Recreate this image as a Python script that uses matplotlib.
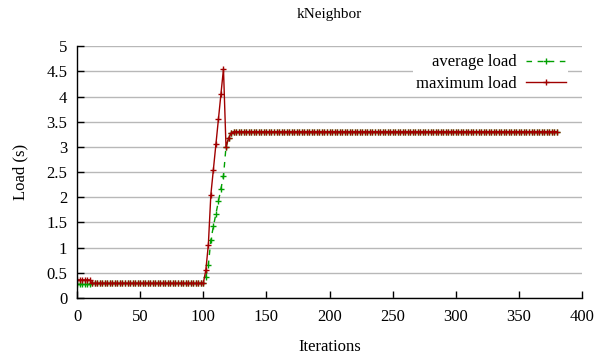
import matplotlib
matplotlib.use("Agg")
import matplotlib.pyplot as plt

plt.rcParams['font.family'] = ['Liberation Serif', 'DejaVu Serif']

iterations = list(range(0, 382, 2))

max_load = [
    0.36, 0.36, 0.36, 0.36, 0.36, 0.36,
    0.29, 0.29, 0.29, 0.29, 0.29, 0.29, 0.29, 0.29, 0.29, 0.29,
    0.29, 0.29, 0.29, 0.29, 0.29, 0.29, 0.29, 0.29, 0.29, 0.29,
    0.29, 0.29, 0.29, 0.29, 0.29, 0.29, 0.29, 0.29, 0.29, 0.29,
    0.29, 0.29, 0.29, 0.29, 0.29, 0.29, 0.29, 0.29, 0.29, 0.29,
    0.29, 0.29, 0.29, 0.29, 0.29,
    0.55, 1.05, 2.05, 2.55, 3.05, 3.55, 4.05, 4.55, 3.00, 3.17, 3.27,
    3.30, 3.30, 3.30, 3.30, 3.30, 3.30, 3.30, 3.30, 3.30, 3.30,
    3.30, 3.30, 3.30, 3.30, 3.30, 3.30, 3.30, 3.30, 3.30, 3.30,
    3.30, 3.30, 3.30, 3.30, 3.30, 3.30, 3.30, 3.30, 3.30, 3.30,
    3.30, 3.30, 3.30, 3.30, 3.30, 3.30, 3.30, 3.30, 3.30, 3.30,
    3.30, 3.30, 3.30, 3.30, 3.30, 3.30, 3.30, 3.30, 3.30, 3.30,
    3.30, 3.30, 3.30, 3.30, 3.30, 3.30, 3.30, 3.30, 3.30, 3.30,
    3.30, 3.30, 3.30, 3.30, 3.30, 3.30, 3.30, 3.30, 3.30, 3.30,
    3.30, 3.30, 3.30, 3.30, 3.30, 3.30, 3.30, 3.30, 3.30, 3.30,
    3.30, 3.30, 3.30, 3.30, 3.30, 3.30, 3.30, 3.30, 3.30, 3.30,
    3.30, 3.30, 3.30, 3.30, 3.30, 3.30, 3.30, 3.30, 3.30, 3.30,
    3.30, 3.30, 3.30, 3.30, 3.30, 3.30, 3.30, 3.30, 3.30, 3.30,
    3.30, 3.30, 3.30, 3.30, 3.30, 3.30, 3.30, 3.30, 3.30, 3.30,
    3.30, 3.30, 3.30, 3.30, 3.30, 3.30, 3.30, 3.30, 3.30,
]

avg_load = [
    0.27, 0.27, 0.27, 0.27, 0.27, 0.27,
    0.29, 0.29, 0.29, 0.29, 0.29, 0.29, 0.29, 0.29, 0.29, 0.29,
    0.29, 0.29, 0.29, 0.29, 0.29, 0.29, 0.29, 0.29, 0.29, 0.29,
    0.29, 0.29, 0.29, 0.29, 0.29, 0.29, 0.29, 0.29, 0.29, 0.29,
    0.29, 0.29, 0.29, 0.29, 0.29, 0.29, 0.29, 0.29, 0.29, 0.29,
    0.29, 0.29, 0.29, 0.29, 0.29,
    0.42, 0.65, 1.15, 1.42, 1.67, 1.92, 2.17, 2.42, 3.00, 3.17, 3.27,
    3.30, 3.30, 3.30, 3.30, 3.30, 3.30, 3.30, 3.30, 3.30, 3.30,
    3.30, 3.30, 3.30, 3.30, 3.30, 3.30, 3.30, 3.30, 3.30, 3.30,
    3.30, 3.30, 3.30, 3.30, 3.30, 3.30, 3.30, 3.30, 3.30, 3.30,
    3.30, 3.30, 3.30, 3.30, 3.30, 3.30, 3.30, 3.30, 3.30, 3.30,
    3.30, 3.30, 3.30, 3.30, 3.30, 3.30, 3.30, 3.30, 3.30, 3.30,
    3.30, 3.30, 3.30, 3.30, 3.30, 3.30, 3.30, 3.30, 3.30, 3.30,
    3.30, 3.30, 3.30, 3.30, 3.30, 3.30, 3.30, 3.30, 3.30, 3.30,
    3.30, 3.30, 3.30, 3.30, 3.30, 3.30, 3.30, 3.30, 3.30, 3.30,
    3.30, 3.30, 3.30, 3.30, 3.30, 3.30, 3.30, 3.30, 3.30, 3.30,
    3.30, 3.30, 3.30, 3.30, 3.30, 3.30, 3.30, 3.30, 3.30, 3.30,
    3.30, 3.30, 3.30, 3.30, 3.30, 3.30, 3.30, 3.30, 3.30, 3.30,
    3.30, 3.30, 3.30, 3.30, 3.30, 3.30, 3.30, 3.30, 3.30, 3.30,
    3.30, 3.30, 3.30, 3.30, 3.30, 3.30, 3.30, 3.30, 3.30,
]

x_ticks = [0, 50, 100, 150, 200, 250, 300, 350, 400]
y_ticks = [0, 0.5, 1, 1.5, 2, 2.5, 3, 3.5, 4, 4.5, 5]
y_tick_labels = ["0", "0.5", "1", "1.5", "2", "2.5", "3", "3.5", "4", "4.5", "5"]

fig = plt.figure(figsize=(5.98, 3.55), dpi=100)
ax = fig.add_axes([0.1288, 0.1606, 0.8445, 0.7094])

ax.plot(iterations, avg_load, color='#00a000', linestyle=(0, (4, 4)), linewidth=1.0,
        marker='+', markersize=5, markeredgewidth=1.0, label='average load')
ax.plot(iterations, max_load, color='#a00000', linestyle='-', linewidth=1.0,
        marker='+', markersize=5, markeredgewidth=1.0, label='maximum load')

ax.set_xlim(0, 400)
ax.set_ylim(0, 5)
ax.set_xticks(x_ticks)
ax.set_yticks(y_ticks)
ax.set_yticklabels(y_tick_labels)
ax.yaxis.grid(True, color='#b8b8b8', linewidth=1.0)
ax.set_axisbelow(True)
for s in ['top', 'right']:
    ax.spines[s].set_visible(False)
for s in ['left', 'bottom']:
    ax.spines[s].set_linewidth(1.0)
ax.tick_params(direction='in', length=5, width=1.0, labelsize=12)
ax.tick_params(axis='x', pad=8)
ax.tick_params(axis='y', pad=7)

ax.set_xlabel('Iterations', fontsize=12, labelpad=10)
ax.set_ylabel('Load (s)', fontsize=12, labelpad=13)
ax.set_title('kNeighbor', fontsize=11, pad=20)

leg = ax.legend(loc='upper right', bbox_to_anchor=(0.989, 1.01), markerfirst=False,
                numpoints=1, fontsize=12, frameon=True, fancybox=False,
                handlelength=2.4, handletextpad=0.55, labelspacing=0.32,
                borderpad=0.15)
leg.get_frame().set_facecolor('white')
leg.get_frame().set_edgecolor('none')
leg.get_frame().set_alpha(1.0)

fig.savefig('out.png', dpi=100)
